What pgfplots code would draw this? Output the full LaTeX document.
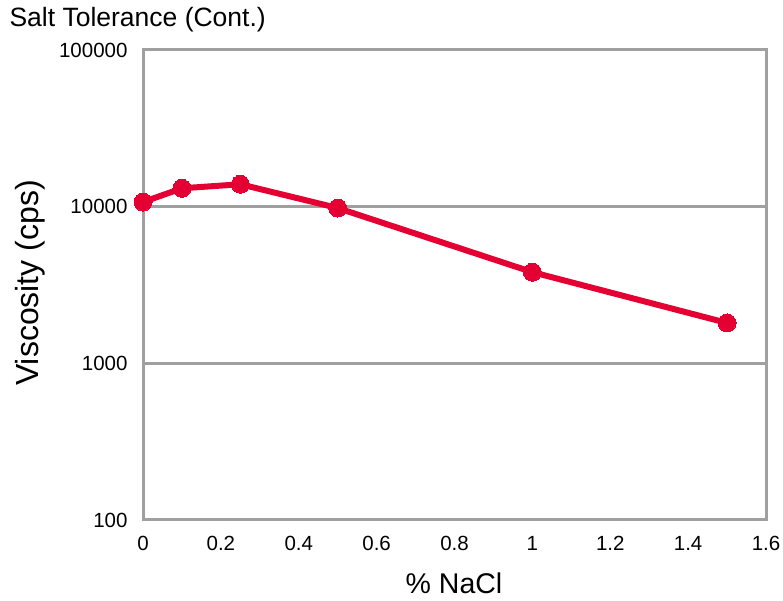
\documentclass[border=0pt]{standalone}
\usepackage{fontspec}
\setmainfont{Liberation Sans}
\usepackage{pgfplots}
\pgfplotsset{compat=1.18}
\definecolor{lred}{RGB}{228,0,50}
\definecolor{agray}{RGB}{160,160,160}
\begin{document}
\begin{tikzpicture}[x=1pt,y=1pt]
\useasboundingbox (0,0) rectangle (783,601);
\begin{axis}[
  at={(143pt,81pt)}, anchor=south west,
  scale only axis, width=623pt, height=470pt,
  xmin=0, xmax=1.6, ymode=log, ymin=100, ymax=100000,
  xtick={0,0.2,...,1.6},
  ytick={100,1000,10000,100000},
  minor ytick={},
  yticklabels={100,1000,10000,100000},
  xticklabels={0,0.2,0.4,0.6,0.8,1,1.2,1.4,1.6},
  major tick length=0pt, minor tick length=0pt,
  axis line style={agray, line width=3pt},
  ymajorgrids, grid style={agray, line width=2.5pt},
  tick label style={font=\fontsize{20.5}{22}\selectfont},
  yticklabel style={xshift=-12pt},
  xticklabel style={yshift=-13pt},
  /pgf/number format/assume math mode=true,
  clip=false,
]
\addplot[lred, line width=6pt, mark=*, mark size=9pt, mark options={fill=lred, draw=lred, line width=0pt}] coordinates {
  (0,10700) (0.1,13100) (0.25,13900) (0.5,9800) (1.0,3820) (1.5,1810)
};
\end{axis}
\node[anchor=west] at (6,581) {\fontsize{26.5}{28}\selectfont Salt Tolerance (Cont.)};
\node[rotate=90] at (30,318) {\fontsize{32}{34}\selectfont Viscosity (cps)};
\node at (454,18) {\fontsize{28.5}{30}\selectfont \% NaCl};
\end{tikzpicture}
\end{document}
